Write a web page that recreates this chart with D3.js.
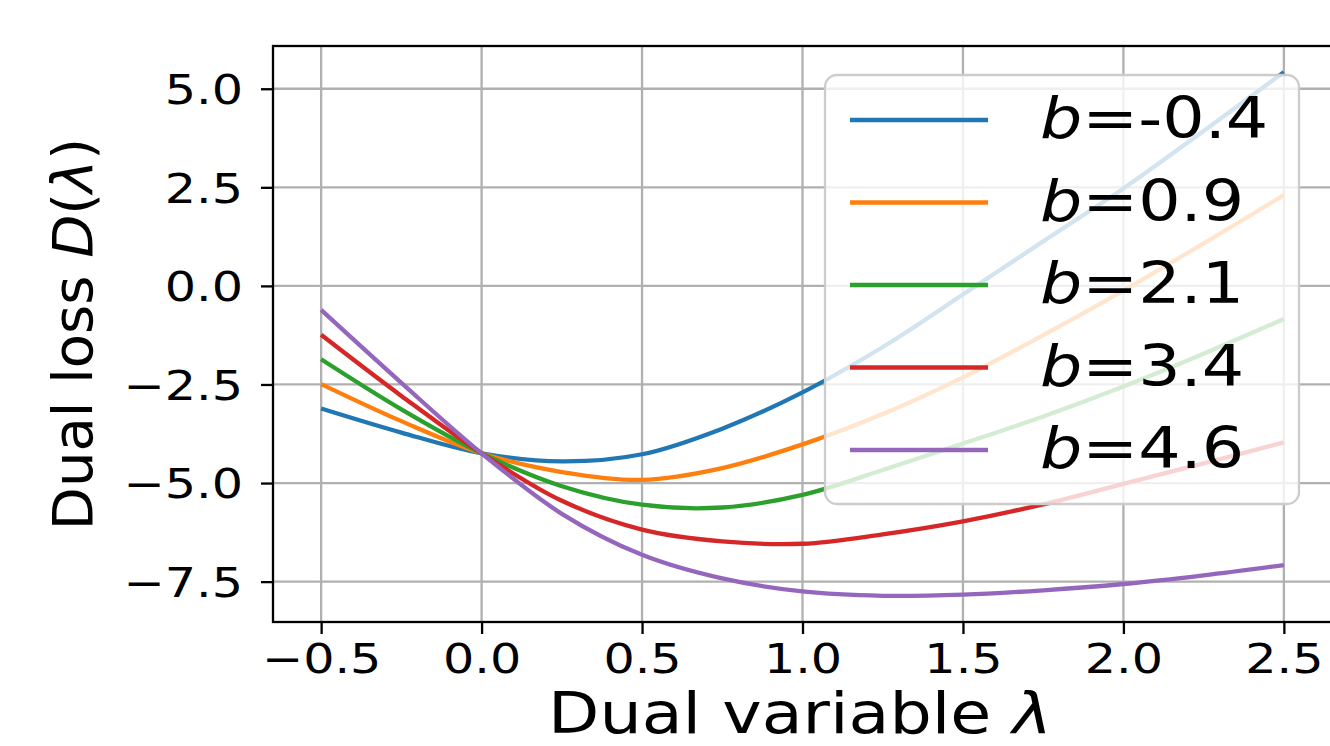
<!DOCTYPE html>
<html>
  <head>
    <title>Dual loss curves</title>
    <script src="https://d3js.org/d3.v7.min.js"></script>
    <style>
        body { margin: 0; background: #fff; }
        text { font-family: "DejaVu Sans", sans-serif; fill: #000; }
    </style>
  </head>
  <body>
    <svg id="chart" width="1330" height="746"></svg>
  </body>
  <script type="text/javascript">
    // values
    var lambdas = [-0.5, -0.25, 0, 0.25, 0.5, 0.75, 1.0, 1.25, 1.5, 1.75, 2.0, 2.25, 2.5];
    var bValues = [-0.4, 0.9, 2.1, 3.4, 4.6];
    var lossB1 = [-3.11, -3.72, -4.245, -4.45, -4.27, -3.62, -2.7, -1.55, -0.22, 1.13, 2.47, 3.93, 5.42];
    var lossB2 = [-2.49, -3.43, -4.245, -4.72, -4.92, -4.62, -4.02, -3.25, -2.32, -1.25, -0.12, 1.08, 2.3];
    var lossB3 = [-1.86, -3.13, -4.245, -5.08, -5.55, -5.62, -5.3, -4.67, -4.0, -3.31, -2.55, -1.72, -0.84];
    var lossB4 = [-1.24, -2.79, -4.245, -5.45, -6.18, -6.48, -6.54, -6.3, -5.97, -5.54, -5.02, -4.5, -3.97];
    var lossB5 = [-0.61, -2.46, -4.245, -5.78, -6.82, -7.42, -7.75, -7.86, -7.83, -7.72, -7.56, -7.34, -7.08];
    var xTicks = [-0.5, 0.0, 0.5, 1.0, 1.5, 2.0, 2.5];
    var yTicks = [-7.5, -5.0, -2.5, 0.0, 2.5, 5.0];
    var colors = ["#1f77b4", "#ff7f0e", "#2ca02c", "#d62728", "#9467bd"];

    var series = [lossB1, lossB2, lossB3, lossB4, lossB5].map(function(vals, i){
        return {
            b: bValues[i],
            color: colors[i],
            points: vals.map(function(v, j){ return {x: lambdas[j], y: v}; })
        };
    });

    var mLeft = 273, mTop = 46, plotW = 1059, plotH = 576;
    var textStretch = 1.17;   // glyphs in the reference are a bit wide

    // matplotlib style 5% margins
    var xExt = d3.extent(lambdas);
    var allY = d3.merge([lossB1, lossB2, lossB3, lossB4, lossB5]);
    var yExt = d3.extent(allY);
    var xPad = (xExt[1] - xExt[0]) * 0.05, yPad = (yExt[1] - yExt[0]) * 0.05;

    var xScale = d3.scaleLinear()
              .domain([xExt[0] - xPad, xExt[1] + xPad])
              .range([0, plotW]);
    var yScale = d3.scaleLinear()
              .domain([yExt[0] - yPad, yExt[1] + yPad])
              .range([plotH, 0]);

    var svg = d3.select("#chart");
    var g = svg.append("g").attr("transform", "translate(" + mLeft + "," + mTop + ")");

    // grid
    g.append("g").selectAll("line")
        .data(xTicks).enter().append("line")
          .attr("x1", function(d){ return xScale(d); })
          .attr("x2", function(d){ return xScale(d); })
          .attr("y1", 0).attr("y2", plotH)
          .attr("stroke", "#b0b0b0").attr("stroke-width", 2.3);
    g.append("g").selectAll("line")
        .data(yTicks).enter().append("line")
          .attr("y1", function(d){ return yScale(d); })
          .attr("y2", function(d){ return yScale(d); })
          .attr("x1", 0).attr("x2", plotW)
          .attr("stroke", "#b0b0b0").attr("stroke-width", 2.3);

    // curves
    var line = d3.line()
        .x(function(d){ return xScale(d.x); })
        .y(function(d){ return yScale(d.y); })
        .curve(d3.curveCatmullRom.alpha(0.5));

    g.selectAll("path.curve")
        .data(series).enter().append("path")
          .attr("class", "curve")
          .attr("d", function(d){ return line(d.points); })
          .attr("fill", "none")
          .attr("stroke", function(d){ return d.color; })
          .attr("stroke-width", 4.3);

    // axes
    var fmt = d3.format(".1f");
    var xAxis = g.append("g")
        .attr("transform", "translate(0," + plotH + ")")
        .call(d3.axisBottom(xScale).tickValues(xTicks).tickFormat(fmt)
              .tickSize(12).tickPadding(10));
    var yAxis = g.append("g")
        .call(d3.axisLeft(yScale).tickValues(yTicks).tickFormat(fmt)
              .tickSize(12));

    [xAxis, yAxis].forEach(function(ax){
        ax.select(".domain").remove();
        ax.selectAll(".tick line").attr("stroke", "#000").attr("stroke-width", 2.3);
        ax.selectAll(".tick text")
            .style("font-family", "DejaVu Sans")
            .style("font-size", "41px");
    });
    xAxis.selectAll(".tick text")
        .attr("transform", "scale(1.2,1)");
    yAxis.selectAll(".tick text")
        .attr("x", 0)
        .attr("dy", "0.36em")
        .attr("transform", "translate(-30,0) scale(1.2,1)");

    // spines (right edge falls outside the picture)
    g.append("rect")
        .attr("x", 0).attr("y", 0)
        .attr("width", plotW).attr("height", plotH)
        .attr("fill", "none")
        .attr("stroke", "#000").attr("stroke-width", 2.3);

    // axis labels
    var xl = svg.append("text")
        .attr("transform", "translate(800,733) scale(" + textStretch + ",1)")
        .attr("text-anchor", "middle")
        .style("font-size", "57px");
    xl.append("tspan").text("Dual variable ");
    xl.append("tspan").style("font-style", "italic").text("λ");

    var yl = svg.append("text")
        .attr("transform", "translate(92," + (mTop + plotH / 2) + ") rotate(-90)")
        .attr("text-anchor", "middle")
        .style("font-size", "56px");
    yl.append("tspan").text("Dual loss ");
    yl.append("tspan").style("font-style", "italic").text("D");
    yl.append("tspan").text("(");
    yl.append("tspan").style("font-style", "italic").text("λ");
    yl.append("tspan").text(")");

    // legend
    var legend = svg.append("g").attr("transform", "translate(825,75)");
    legend.append("rect")
        .attr("width", 474).attr("height", 429)
        .attr("rx", 12).attr("ry", 12)
        .attr("fill", "#fff").attr("fill-opacity", 0.8)
        .attr("stroke", "#cccccc").attr("stroke-width", 2.3);

    var items = legend.selectAll("g.item")
        .data(series).enter().append("g")
          .attr("class", "item")
          .attr("transform", function(d, i){ return "translate(0," + (45 + i * 82.5) + ")"; });
    items.append("line")
        .attr("x1", 25).attr("x2", 163)
        .attr("stroke", function(d){ return d.color; })
        .attr("stroke-width", 4.3);
    var lt = items.append("text")
        .attr("transform", "translate(215,18) scale(" + textStretch + ",1)")
        .style("font-size", "57px");
    lt.append("tspan").style("font-style", "italic").text("b");
    lt.append("tspan").text(function(d){ return "=" + d.b; });
  </script>
</html>
